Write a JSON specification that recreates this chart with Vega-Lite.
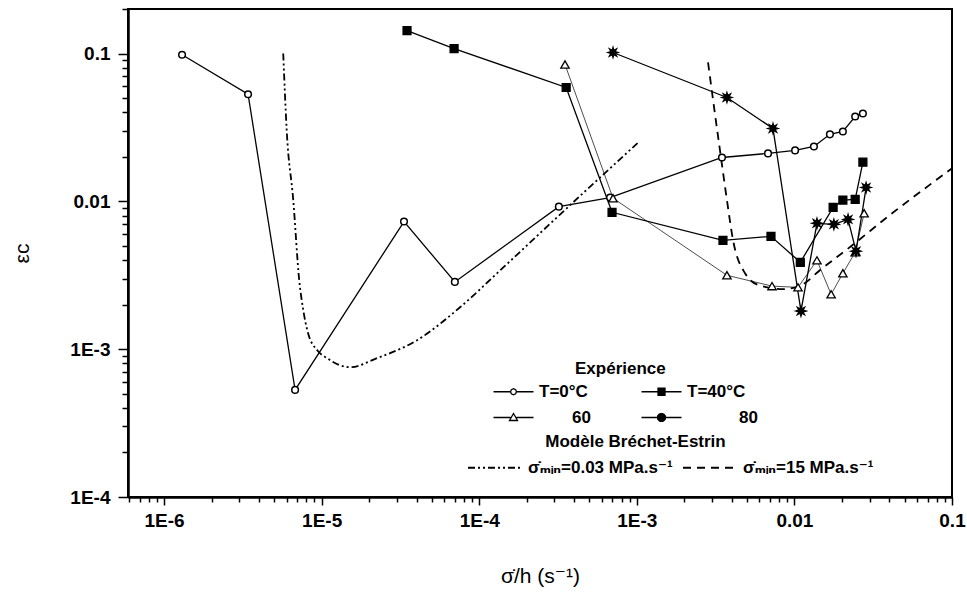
{
  "$schema": "https://vega.github.io/schema/vega-lite/v6.json",
  "width": 824,
  "height": 488,
  "autosize": {"type": "none"},
  "padding": {"left": 128, "top": 9, "right": 15, "bottom": 95},
  "background": "white",
  "config": {
    "view": {"stroke": "black", "strokeWidth": 2},
    "font": "Liberation Sans"
  },
  "datasets": {
    "exp": [
      {"series": "T=0°C", "x": 1.30e-6, "y": 0.098},
      {"series": "T=0°C", "x": 3.41e-6, "y": 0.053},
      {"series": "T=0°C", "x": 6.78e-6, "y": 5.3e-4},
      {"series": "T=0°C", "x": 3.33e-5, "y": 7.3e-3},
      {"series": "T=0°C", "x": 7.0e-5, "y": 2.85e-3},
      {"series": "T=0°C", "x": 3.2e-4, "y": 9.2e-3},
      {"series": "T=0°C", "x": 6.76e-4, "y": 0.0106},
      {"series": "T=0°C", "x": 3.47e-3, "y": 0.0198},
      {"series": "T=0°C", "x": 6.8e-3, "y": 0.0211},
      {"series": "T=0°C", "x": 0.0101, "y": 0.0221},
      {"series": "T=0°C", "x": 0.0133, "y": 0.0235},
      {"series": "T=0°C", "x": 0.0168, "y": 0.0284},
      {"series": "T=0°C", "x": 0.0203, "y": 0.0297},
      {"series": "T=0°C", "x": 0.0243, "y": 0.0375},
      {"series": "T=0°C", "x": 0.0272, "y": 0.0393},
      {"series": "T=40°C", "x": 3.48e-5, "y": 0.143},
      {"series": "T=40°C", "x": 6.92e-5, "y": 0.108},
      {"series": "T=40°C", "x": 3.56e-4, "y": 0.0589},
      {"series": "T=40°C", "x": 6.96e-4, "y": 8.43e-3},
      {"series": "T=40°C", "x": 3.52e-3, "y": 5.45e-3},
      {"series": "T=40°C", "x": 7.1e-3, "y": 5.8e-3},
      {"series": "T=40°C", "x": 0.0109, "y": 3.87e-3},
      {"series": "T=40°C", "x": 0.0176, "y": 9.1e-3},
      {"series": "T=40°C", "x": 0.0203, "y": 0.0102},
      {"series": "T=40°C", "x": 0.0243, "y": 0.0103},
      {"series": "T=40°C", "x": 0.0272, "y": 0.0184},
      {"series": "60", "x": 3.5e-4, "y": 0.0843},
      {"series": "60", "x": 7.06e-4, "y": 0.0105},
      {"series": "60", "x": 3.73e-3, "y": 3.16e-3},
      {"series": "60", "x": 7.21e-3, "y": 2.67e-3},
      {"series": "60", "x": 0.01054, "y": 2.62e-3},
      {"series": "60", "x": 0.0139, "y": 3.99e-3},
      {"series": "60", "x": 0.0171, "y": 2.35e-3},
      {"series": "60", "x": 0.0203, "y": 3.26e-3},
      {"series": "60", "x": 0.0243, "y": 4.52e-3},
      {"series": "60", "x": 0.0277, "y": 8.3e-3},
      {"series": "80", "x": 7.06e-4, "y": 0.1016},
      {"series": "80", "x": 3.73e-3, "y": 0.0504},
      {"series": "80", "x": 7.31e-3, "y": 0.0311},
      {"series": "80", "x": 0.0110, "y": 1.81e-3},
      {"series": "80", "x": 0.0139, "y": 7.1e-3},
      {"series": "80", "x": 0.0178, "y": 6.99e-3},
      {"series": "80", "x": 0.0219, "y": 7.55e-3},
      {"series": "80", "x": 0.0246, "y": 4.6e-3},
      {"series": "80", "x": 0.0285, "y": 0.0124}
    ],
    "model": [
      {"model": "a", "x": 5.7e-6, "y": 0.1},
      {"model": "a", "x": 6.0e-6, "y": 0.030},
      {"model": "a", "x": 6.6e-6, "y": 0.0102},
      {"model": "a", "x": 7.2e-6, "y": 2.93e-3},
      {"model": "a", "x": 7.6e-6, "y": 1.9e-3},
      {"model": "a", "x": 8.2e-6, "y": 1.28e-3},
      {"model": "a", "x": 9.4e-6, "y": 9.8e-4},
      {"model": "a", "x": 1.08e-5, "y": 8.7e-4},
      {"model": "a", "x": 1.51e-5, "y": 7.55e-4},
      {"model": "a", "x": 2.25e-5, "y": 8.7e-4},
      {"model": "a", "x": 4.03e-5, "y": 1.15e-3},
      {"model": "a", "x": 7.55e-5, "y": 1.92e-3},
      {"model": "a", "x": 1.36e-4, "y": 3.42e-3},
      {"model": "a", "x": 3.6e-4, "y": 9.0e-3},
      {"model": "a", "x": 1.02e-3, "y": 0.025},
      {"model": "b", "x": 2.83e-3, "y": 0.087},
      {"model": "b", "x": 3.05e-3, "y": 0.048},
      {"model": "b", "x": 3.37e-3, "y": 0.0221},
      {"model": "b", "x": 3.73e-3, "y": 0.0102},
      {"model": "b", "x": 4.08e-3, "y": 5.45e-3},
      {"model": "b", "x": 4.86e-3, "y": 3.26e-3},
      {"model": "b", "x": 6.0e-3, "y": 2.7e-3},
      {"model": "b", "x": 8.5e-3, "y": 2.55e-3},
      {"model": "b", "x": 0.0110, "y": 2.7e-3},
      {"model": "b", "x": 0.0145, "y": 3.42e-3},
      {"model": "b", "x": 0.0236, "y": 5.1e-3},
      {"model": "b", "x": 0.0387, "y": 7.8e-3},
      {"model": "b", "x": 0.1, "y": 0.0167}
    ]
  },
  "encoding": {
    "x": {
      "field": "x", "type": "quantitative",
      "scale": {"type": "log", "domain": [5.9e-7, 0.1], "nice": false},
      "axis": {
        "orient": "bottom",
        "values": [6e-7, 7e-7, 8e-7, 9e-7, 1e-6, 2e-6, 3e-6, 4e-6, 5e-6, 6e-6, 7e-6, 8e-6, 9e-6, 1e-5, 2e-5, 3e-5, 4e-5, 5e-5, 6e-5, 7e-5, 8e-5, 9e-5, 1e-4, 2e-4, 3e-4, 4e-4, 5e-4, 6e-4, 7e-4, 8e-4, 9e-4, 1e-3, 2e-3, 3e-3, 4e-3, 5e-3, 6e-3, 7e-3, 8e-3, 9e-3, 0.01, 0.02, 0.03, 0.04, 0.05, 0.06, 0.07, 0.08, 0.09, 0.1],
        "labelExpr": "abs(log(datum.value)/LN10 - round(log(datum.value)/LN10)) > 0.01 ? '' : (datum.value >= 0.01 ? format(datum.value, '') : '1E' + round(log(datum.value)/LN10))",
        "tickSize": {"condition": {"test": "abs(log(datum.value)/LN10 - round(log(datum.value)/LN10)) < 0.01", "value": 8}, "value": 5},
        "tickColor": "black", "tickWidth": 1.5,
        "domainColor": "black", "domainWidth": 2.5,
        "labelFont": "Liberation Sans", "labelFontWeight": "bold", "labelFontSize": 19, "labelColor": "black",
        "labelPadding": 6, "labelOverlap": false, "labelFlush": false, "labelBound": false,
        "grid": false,
        "title": "σ̇/h (s⁻¹)",
        "titleFont": "Liberation Sans, DejaVu Sans", "titleFontWeight": "normal", "titleFontSize": 21, "titleColor": "black",
        "titlePadding": 35
      }
    },
    "y": {
      "field": "y", "type": "quantitative",
      "scale": {"type": "log", "domain": [1e-4, 0.2], "nice": false},
      "axis": {
        "orient": "left",
        "values": [1e-4, 2e-4, 3e-4, 4e-4, 5e-4, 6e-4, 7e-4, 8e-4, 9e-4, 1e-3, 2e-3, 3e-3, 4e-3, 5e-3, 6e-3, 7e-3, 8e-3, 9e-3, 0.01, 0.02, 0.03, 0.04, 0.05, 0.06, 0.07, 0.08, 0.09, 0.1, 0.2],
        "labelExpr": "abs(log(datum.value)/LN10 - round(log(datum.value)/LN10)) > 0.01 ? '' : (datum.value >= 0.01 ? format(datum.value, '') : '1E' + round(log(datum.value)/LN10))",
        "tickSize": {"condition": {"test": "abs(log(datum.value)/LN10 - round(log(datum.value)/LN10)) < 0.01", "value": 10}, "value": 6},
        "tickColor": "black", "tickWidth": 1.5,
        "domainColor": "black", "domainWidth": 2.5,
        "labelFont": "Liberation Sans", "labelFontWeight": "bold", "labelFontSize": 19, "labelColor": "black",
        "labelPadding": 8, "labelOverlap": false, "labelFlush": false, "labelBound": false,
        "grid": false,
        "title": "εc",
        "titleFont": "Liberation Sans, DejaVu Sans", "titleFontWeight": "normal", "titleFontSize": 21, "titleColor": "black",
        "titlePadding": 37
      }
    }
  },
  "layer": [
    {
      "data": {"name": "model"},
      "mark": {"type": "line", "color": "black", "strokeWidth": 1.8, "interpolate": "monotone"},
      "encoding": {
        "strokeDash": {
          "field": "model", "type": "nominal",
          "scale": {"domain": ["a", "b"], "range": [[7, 3, 2, 3, 2, 3], [8, 6]]},
          "legend": {
            "orient": "none", "legendX": 337, "legendY": 425,
            "title": "\u200b\u00a0\u00a0\u00a0\u00a0\u00a0\u00a0\u00a0\u00a0\u00a0\u00a0\u00a0\u00a0\u00a0\u00a0\u00a0\u00a0\u00a0Modèle Bréchet-Estrin",
            "titleAnchor": "start", "titleLimit": 600,
            "titleFont": "Liberation Sans", "titleFontSize": 17, "titleFontWeight": "bold", "titleColor": "black",
            "titlePadding": 8,
            "labelExpr": "datum.value == 'a' ? 'σ̇ₘᵢₙ=0.03 MPa.s⁻¹' : 'σ̇ₘᵢₙ=15 MPa.s⁻¹'",
            "labelFont": "Liberation Sans, DejaVu Sans", "labelFontSize": 17, "labelFontWeight": "bold", "labelColor": "black",
            "labelLimit": 400,
            "columns": 2, "direction": "horizontal", "columnPadding": 6, "rowPadding": 8,
            "symbolType": "M-5,0H5", "symbolSize": 121, "symbolOffset": 22, "labelOffset": 24,
            "symbolStrokeColor": "black", "symbolStrokeWidth": 1.8,
            "padding": 0
          }
        }
      }
    },
    {
      "data": {"name": "exp"},
      "mark": {"type": "line", "color": "black"},
      "encoding": {
        "detail": {"field": "series", "type": "nominal"},
        "strokeWidth": {"condition": {"test": "datum.series == '60'", "value": 0.7}, "value": 1.3}
      }
    },
    {
      "data": {"name": "exp"},
      "transform": [{"filter": "datum.series == 'T=0°C'"}],
      "mark": {"type": "point", "shape": "circle", "size": 44, "fill": "white", "stroke": "black", "strokeWidth": 1.5, "opacity": 1}
    },
    {
      "data": {"name": "exp"},
      "transform": [{"filter": "datum.series == 'T=40°C'"}],
      "mark": {"type": "point", "shape": "square", "size": 64, "fill": "black", "stroke": "black", "strokeWidth": 1.2, "opacity": 1}
    },
    {
      "data": {"name": "exp"},
      "transform": [{"filter": "datum.series == '60'"}],
      "mark": {"type": "point", "shape": "triangle-up", "size": 70, "fill": "white", "stroke": "black", "strokeWidth": 1.3, "opacity": 1}
    },
    {
      "data": {"name": "exp"},
      "transform": [{"filter": "datum.series == '80'"}],
      "mark": {"type": "point", "shape": "M1,0L0.416,0.172L0.707,0.707L0.172,0.416L0,1L-0.172,0.416L-0.707,0.707L-0.416,0.172L-1,0L-0.416,-0.172L-0.707,-0.707L-0.172,-0.416L0,-1L0.172,-0.416L0.707,-0.707L0.416,-0.172Z", "size": 110, "fill": "black", "stroke": "black", "strokeWidth": 1.2, "opacity": 1}
    },
    {
      "data": {"name": "exp"},
      "transform": [{"filter": "false"}],
      "mark": {"type": "point", "filled": false, "stroke": "black", "strokeWidth": 1.3, "opacity": 1},
      "encoding": {
        "shape": {
          "field": "series", "type": "nominal",
          "scale": {
            "domain": ["T=0°C", "T=40°C", "60", "80"],
            "range": [
              "M-4,0H-0.6M0.6,0H4M0.6,0L0.42,0.42L0,0.6L-0.42,0.42L-0.6,0L-0.42,-0.42L0,-0.6L0.42,-0.42Z",
              "M-4,0H-0.7M0.7,0H4M-0.7,-0.7H0.7V0.7H-0.7ZM-0.7,-0.5H0.7M-0.7,-0.3H0.7M-0.7,-0.1H0.7M-0.7,0.1H0.7M-0.7,0.3H0.7M-0.7,0.5H0.7",
              "M-4,0H-0.6M0.6,0H4M0,-0.8L0.8,0.6L-0.8,0.6Z",
              "M-4,0H4M-0.9,-0.2H0.9M-0.9,0.2H0.9M0,-0.9V0.9M-0.2,-0.9V0.9M0.2,-0.9V0.9M-0.64,-0.64L0.64,0.64M-0.64,0.64L0.64,-0.64M-0.5,-0.78L0.78,0.5M-0.78,-0.5L0.5,0.78M-0.5,0.78L0.78,-0.5M-0.78,0.5L0.5,-0.78"
            ]
          },
          "legend": {
            "orient": "none", "legendX": 362, "legendY": 352,
            "title": "\u200b\u00a0\u00a0\u00a0\u00a0\u00a0\u00a0\u00a0\u00a0\u00a0\u00a0\u00a0\u00a0\u00a0\u00a0\u00a0\u00a0\u00a0\u00a0Expérience",
            "titleAnchor": "start", "titleLimit": 600,
            "titleFont": "Liberation Sans", "titleFontSize": 17, "titleFontWeight": "bold", "titleColor": "black",
            "titlePadding": 5,
            "labelExpr": "datum.value == '60' ? '\u200b\u00a0\u00a0\u00a0\u00a0\u00a0\u00a0\u00a060' : (datum.value == '80' ? '\u200b\u00a0\u00a0\u00a0\u00a0\u00a0\u00a0\u00a0\u00a0\u00a0\u00a0\u00a080' : datum.label)",
            "labelFont": "Liberation Sans", "labelFontSize": 17, "labelFontWeight": "bold", "labelColor": "black",
            "columns": 2, "direction": "horizontal", "columnPadding": 47, "rowPadding": 8,
            "symbolSize": 100, "symbolOffset": 15, "labelOffset": 17,
            "symbolStrokeWidth": 1.3, "symbolStrokeColor": "black", "symbolFillColor": "white",
            "padding": 0
          }
        }
      }
    }
  ]
}
